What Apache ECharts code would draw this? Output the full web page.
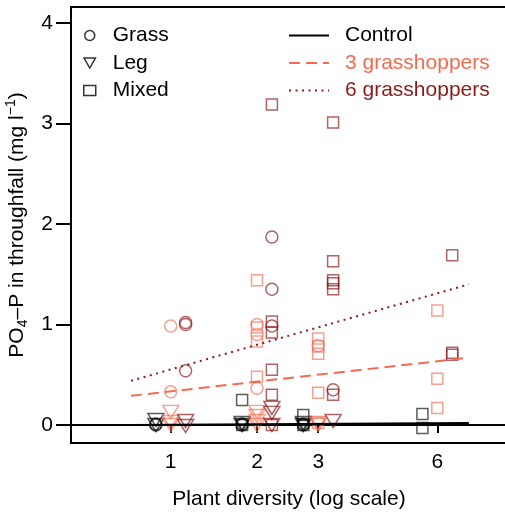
<!DOCTYPE html>
<html>
<head>
<meta charset="utf-8">
<script src="https://cdn.jsdelivr.net/npm/echarts@6/dist/echarts.min.js"></script>
<style>
  html, body { margin: 0; padding: 0; background: #fff; }
  #chart { width: 505px; height: 513px; }
</style>
</head>
<body>
<div id="chart"></div>
<script>
// plant diversity ticks on the x axis (axis is log(diversity + 1))
var diversityTicks = [1, 2, 3, 6];
var yTicks = [0, 1, 2, 3, 4];

// points: [plant diversity, PO4-P mg/l]
var controlGrass = [[1, 0.0], [1, 0.01], [2, 0.0], [2, 0.01], [3, 0.0], [3, 0.01]];
var controlLeg = [[1, 0.05], [1, 0.0], [2, 0.02], [2, 0.0], [3, 0.02], [3, 0.0]];
var controlMixed = [[2, 0.25], [2, 0.0], [3, 0.10], [3, 0.0], [6, 0.11], [6, -0.03]];

var g3Grass = [[1, 0.985], [1, 0.33], [2, 1.0], [2, 0.9], [2, 0.365], [3, 0.79]];
var g3Leg = [[1, 0.13], [1, 0.03], [1, 0.0], [2, 0.13], [2, 0.09], [2, 0.04], [2, 0.0], [3, 0.02], [3, 0.0]];
var g3Mixed = [[2, 1.44], [2, 0.97], [2, 0.83], [2, 0.48], [3, 0.86], [3, 0.78], [3, 0.71], [3, 0.32], [3, 0.02], [6, 1.14], [6, 0.46], [6, 0.17]];

var g6Grass = [[1, 1.02], [1, 1.0], [1, 0.54], [2, 1.87], [2, 1.35], [2, 0.985], [3, 0.35]];
var g6Leg = [[1, 0.04], [1, -0.01], [2, 0.17], [2, 0.12], [2, 0.0], [3, 0.04]];
var g6Mixed = [[2, 3.19], [2, 1.03], [2, 0.92], [2, 0.55], [2, 0.30], [2, 0.0], [3, 3.01], [3, 1.63], [3, 1.44], [3, 1.41], [3, 1.35], [3, 0.30], [6, 1.69], [6, 0.72], [6, 0.70]];

// fitted lines: diversity at ends, value at ends
var fitX = [0.66, 7.12];
var fitControl = [0.0, 0.02];
var fit3 = [0.29, 0.67];
var fit6 = [0.44, 1.40];

var treatments = ['Control', '3 grasshoppers', '6 grasshoppers'];
var colors = ['#000000', '#f26b50', '#8b1a1a'];
var markerColors = ['rgba(0,0,0,0.8)', 'rgba(242,107,80,0.8)', 'rgba(139,26,26,0.85)'];
var jitter = [-0.07, 0, 0.07];

function xOf(d) { return Math.log(d + 1); }

var shapes = {
    Grass: {symbol: 'circle', size: 12},
    Leg: {symbol: 'path://M0,0L16,0L8,14Z', size: [16, 13]},
    Mixed: {symbol: 'rect', size: 11}
};

var pointData = [
    {Grass: controlGrass, Leg: controlLeg, Mixed: controlMixed},
    {Grass: g3Grass, Leg: g3Leg, Mixed: g3Mixed},
    {Grass: g6Grass, Leg: g6Leg, Mixed: g6Mixed}
];
var fits = [fitControl, fit3, fit6];
var lineTypes = ['solid', [11, 6], [2, 4.5]];

var series = [];
pointData.forEach(function (groups, t) {
    ['Grass', 'Leg', 'Mixed'].forEach(function (g) {
        series.push({
            name: g,
            type: 'scatter',
            symbol: shapes[g].symbol,
            symbolSize: shapes[g].size,
            itemStyle: {color: 'transparent', borderColor: markerColors[t], borderWidth: 1.5},
            data: groups[g].map(function (p) { return [xOf(p[0]) + jitter[t], p[1]]; })
        });
    });
});
fits.forEach(function (f, t) {
    series.push({
        name: treatments[t],
        type: 'line',
        symbol: 'none',
        lineStyle: {color: colors[t], width: 2, type: lineTypes[t]},
        itemStyle: {color: colors[t]},
        data: [[xOf(fitX[0]), f[0]], [xOf(fitX[1]), f[1]]]
    });
});

var chart = echarts.init(document.getElementById('chart'));
var option = {
    animation: false,
    textStyle: {fontFamily: 'Liberation Sans'},
    grid: {left: 71, right: -2, top: 7, bottom: 70, show: true, borderColor: '#000', borderWidth: 2, outerBoundsMode: 'none'},
    legend: [{
        orient: 'vertical',
        left: 83,
        top: 25,
        padding: 0,
        itemWidth: 12,
        itemHeight: 10,
        itemGap: 6.5,
        data: ['Grass', 'Leg', 'Mixed'],
        itemStyle: {color: 'transparent', borderColor: '#000', borderWidth: 1.5},
        textStyle: {fontSize: 21, color: '#000', lineHeight: 20, padding: [0, 0, 0, 12]}
    }, {
        orient: 'vertical',
        left: 288,
        top: 25,
        padding: 0,
        itemWidth: 40,
        itemHeight: 12,
        itemGap: 6.5,
        data: treatments.map(function (n, i) {
            return {name: n, textStyle: {color: colors[i]}};
        }),
        itemStyle: {color: 'transparent', borderWidth: 0, opacity: 0},
        textStyle: {fontSize: 21, lineHeight: 20, padding: [0, 0, 0, 11]}
    }],
    xAxis: {
        type: 'value',
        min: 0.2246,
        max: 2.2734,
        splitLine: {show: false},
        axisLine: {show: true, lineStyle: {color: '#000', width: 2}},
        axisTick: {show: true, length: 8, lineStyle: {color: '#000', width: 2}, customValues: diversityTicks.map(xOf)},
        axisLabel: {
            customValues: diversityTicks.map(xOf),
            formatter: function (v) { return String(Math.round(Math.exp(v) - 1)); },
            fontSize: 21, color: '#000', margin: 9
        },
        name: 'Plant diversity (log scale)',
        nameLocation: 'middle',
        nameGap: 46,
        nameTextStyle: {fontSize: 21, color: '#000'}
    },
    yAxis: {
        type: 'value',
        min: -0.179,
        max: 4.159,
        splitLine: {show: false},
        axisLine: {show: true, lineStyle: {color: '#000', width: 2}},
        axisTick: {show: true, length: 15, lineStyle: {color: '#000', width: 2}, customValues: yTicks},
        axisLabel: {customValues: yTicks, fontSize: 21, color: '#000', margin: 18},
        name: '{a|PO}{s|4}{a|–P in throughfall (mg l}{p|−1}{a|)}',
        nameLocation: 'middle',
        nameGap: 32,
        nameTextStyle: {
            rich: {
                a: {fontSize: 21, color: '#000', lineHeight: 26},
                s: {fontSize: 14, color: '#000', lineHeight: 14, verticalAlign: 'bottom'},
                p: {fontSize: 14, color: '#000', lineHeight: 14, verticalAlign: 'top'}
            }
        }
    },
    series: series
};
chart.setOption(option);
</script>
</body>
</html>
